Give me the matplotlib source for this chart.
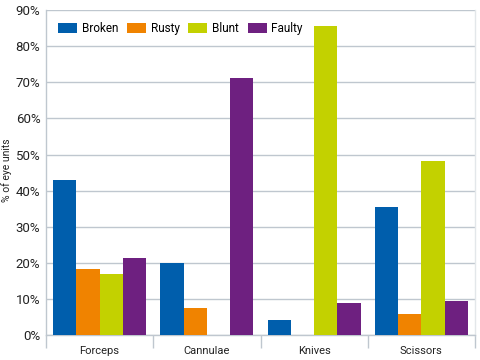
import matplotlib
matplotlib.use("Agg")
import matplotlib.pyplot as plt
import numpy as np
from matplotlib.ticker import FixedLocator, PercentFormatter

categories = ["Forceps", "Cannulae", "Knives", "Scissors"]
series = ["Broken", "Rusty", "Blunt", "Faulty"]
broken = [43.0, 20.0, 4.3, 35.6]
rusty = [18.4, 7.6, 0.0, 5.8]
blunt = [16.9, 0.0, 85.6, 48.2]
faulty = [21.3, 71.2, 8.9, 9.5]
colors = ["#005EAC", "#F08300", "#C3D100", "#6E2080"]
yticks = [0, 10, 20, 30, 40, 50, 60, 70, 80, 90]

plt.rcParams['font.family'] = ['Roboto', 'DejaVu Sans']

fig = plt.figure(figsize=(4.8, 3.6), dpi=100)
ax = fig.add_axes([46/480, 1-335.3/360, (475-46)/480, (335.3-10)/360])

x = np.arange(len(categories))
w = 0.217
data = [broken, rusty, blunt, faulty]
for i, (name, vals, c) in enumerate(zip(series, data, colors)):
    ax.bar(x + (i - 1.5) * w, vals, width=w, color=c, label=name, zorder=3)

ax.set_xlim(-0.5, len(categories) - 0.5)
ax.set_ylim(0, 90)
ax.set_yticks(yticks)
ax.yaxis.set_major_formatter(PercentFormatter(decimals=0))
ax.grid(axis='y', color='#BFC7CF', linewidth=1.0, zorder=0)
ax.set_xticks(x)
ax.set_xticklabels(categories)
ax.xaxis.set_minor_locator(FixedLocator(np.arange(-0.5, len(categories), 1.0)))
ax.tick_params(axis='x', which='major', length=0, pad=8, labelsize=8, colors='#222222')
ax.tick_params(axis='x', which='minor', length=9, width=1, color='#BFC7CF')
ax.tick_params(axis='y', length=0, pad=4, labelsize=9.5, colors='#222222')
for s in ['top']:
    ax.spines[s].set_visible(False)
for s in ['left', 'bottom', 'right']:
    ax.spines[s].set_color('#BFC7CF')
    ax.spines[s].set_linewidth(1.0)
ax.spines['right'].set_color('#E3E7EA')

fig.text(7/480, 1-170/360, "% of eye units", rotation=90, fontsize=7.5,
         ha='center', va='center', color='#222222')

leg = ax.legend(loc='upper left', ncol=4, frameon=False, fontsize=8.5,
                handlelength=1.6, handleheight=1.0, columnspacing=0.75,
                handletextpad=0.4, bbox_to_anchor=(0.012, 0.985), borderaxespad=0.2)

fig.savefig("out.png", dpi=100)
